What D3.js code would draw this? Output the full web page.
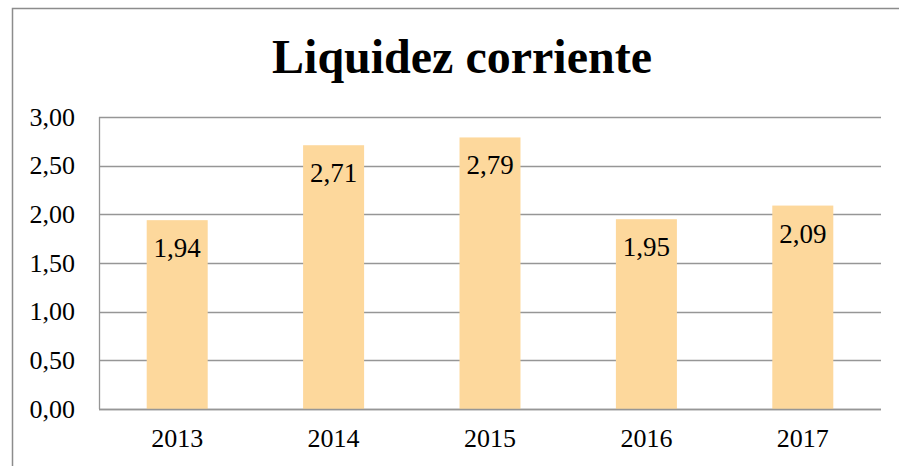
<!DOCTYPE html>
<html>
<head>
<meta charset="utf-8">
<script src="https://cdn.jsdelivr.net/npm/d3@7"></script>
<style>
  body { margin: 0; background: #fff; }
  svg { display: block; font-family: "Liberation Serif", "Times New Roman", serif; }
</style>
</head>
<body>
<script>
// data
var years = ['2013', '2014', '2015', '2016', '2017'];
var ratios = [1.94, 2.71, 2.79, 1.95, 2.09];
var yTicks = [0, 0.5, 1, 1.5, 2, 2.5, 3];

var w = 899;
var h = 466;
var margin = { top: 117, right: 18, bottom: 57, left: 99 };

var fmt = function(v) { return d3.format('.2f')(v).replace('.', ','); };

var svg = d3.select('body')
            .append('svg')
            .attr('width', w)
            .attr('height', h);

// outer chart frame (right and bottom fall outside the image)
svg.append('rect')
  .attr('x', 12.5)
  .attr('y', 8.5)
  .attr('width', w)
  .attr('height', h)
  .attr('fill', 'none')
  .attr('stroke', '#8c8c8c')
  .attr('stroke-width', 1.5);

svg.append('text')
  .text('Liquidez corriente')
  .attr('x', 462)
  .attr('y', 73)
  .attr('text-anchor', 'middle')
  .attr('font-size', '48px')
  .attr('font-weight', 'bold')
  .attr('fill', '#000');

var x = d3.scaleBand()
  .domain(years)
  .range([margin.left, w - margin.right])
  .paddingInner(0.61)
  .paddingOuter(0.305);

var y = d3.scaleLinear()
  .domain([0, 3])
  .range([h - margin.bottom, margin.top]);

// gridlines
svg.append('g')
  .selectAll('line')
  .data(yTicks)
  .enter()
  .append('line')
    .attr('x1', margin.left)
    .attr('x2', w - margin.right)
    .attr('y1', (d) => Math.round(y(d)) + 0.5)
    .attr('y2', (d) => Math.round(y(d)) + 0.5)
    .attr('stroke', '#969696')
    .attr('stroke-width', 1.3);

// left plot edge
svg.append('line')
  .attr('x1', margin.left + 0.5)
  .attr('x2', margin.left + 0.5)
  .attr('y1', y(3))
  .attr('y2', y(0))
  .attr('stroke', '#969696')
  .attr('stroke-width', 1.3);

var yAxis = svg.append('g')
  .attr('transform', 'translate(' + (margin.left - 24) + ',0)')
  .call(d3.axisLeft(y).tickValues(yTicks).tickFormat(fmt).tickSize(0).tickPadding(0));
yAxis.select('.domain').remove();
yAxis.selectAll('text')
  .attr('font-family', '"Liberation Serif", serif')
  .attr('font-size', '26px')
  .attr('fill', '#000')
  .attr('dy', '0.32em');

svg.selectAll('rect.bar')
  .data(ratios)
  .enter()
  .append('rect')
    .attr('class', 'bar')
    .attr('x', (d, i) => x(years[i]))
    .attr('y', (d) => y(d))
    .attr('width', x.bandwidth())
    .attr('height', (d) => y(0) - y(d))
    .attr('fill', '#fdd89c');

// redraw baseline above bars
svg.append('line')
  .attr('x1', margin.left)
  .attr('x2', w - margin.right)
  .attr('y1', Math.round(y(0)) + 0.5)
  .attr('y2', Math.round(y(0)) + 0.5)
  .attr('stroke', '#969696')
  .attr('stroke-width', 1.3);

svg.selectAll('text.val')
  .data(ratios)
  .enter()
  .append('text')
    .attr('class', 'val')
    .text(fmt)
    .attr('x', (d, i) => x(years[i]) + x.bandwidth() / 2)
    .attr('y', (d) => y(d) + 37)
    .attr('text-anchor', 'middle')
    .attr('font-size', '27px')
    .attr('fill', '#000');

var xAxis = svg.append('g')
  .attr('transform', 'translate(0,' + y(0) + ')')
  .call(d3.axisBottom(x).tickSize(0).tickPadding(0));
xAxis.select('.domain').remove();
xAxis.selectAll('text')
  .attr('font-family', '"Liberation Serif", serif')
  .attr('font-size', '26px')
  .attr('fill', '#000')
  .attr('dy', '38px');
</script>
</body>
</html>
